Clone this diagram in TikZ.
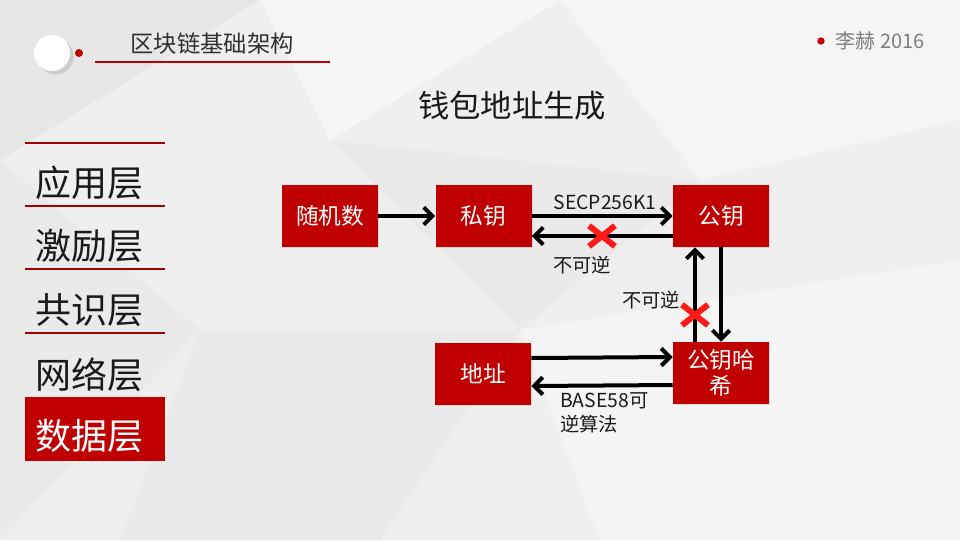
\documentclass[tikz,border=0pt]{standalone}
\usepackage{fontspec}
\setmainfont{Noto Sans CJK SC}
\usetikzlibrary{arrows.meta,shadows,shapes.misc}
\definecolor{slidered}{HTML}{C00000}
\definecolor{crossred}{HTML}{FF1A1A}
\definecolor{bggray}{HTML}{EFEFEF}
\definecolor{authorgray}{HTML}{7F7F7F}
\definecolor{inktext}{HTML}{1A1A1A}
\tikzset{
  keybox/.style={fill=slidered, text=white, minimum width=72pt, minimum height=46.5pt,
    inner sep=0pt, align=center, font=\fontsize{17}{19.5}\selectfont,
    drop shadow={opacity=0.2, shadow xshift=1pt, shadow yshift=-1pt}},
  flow/.style={line width=3pt, -{Straight Barb[length=6.5pt, width=13pt]}},
  note/.style={font=\fontsize{14.5}{18}\selectfont, text=inktext},
  layer/.style={font=\fontsize{27}{30}\selectfont, text=inktext},
  layerline/.style={slidered!85!black, line width=2.2pt},
  nogo/.style={cross out, draw=crossred, line width=4.5pt, minimum width=15pt,
    minimum height=11pt, inner sep=0pt},
}
\begin{document}
\begin{tikzpicture}[x=0.75pt, y=-0.75pt]
\fill[bggray] (0,0) rectangle (960,540);
\useasboundingbox (0,0) rectangle (960,540);
% faint facets in the background
\fill[black, opacity=0.03] (0,0) -- (260,0) -- (0,160) -- cycle;
\fill[white, opacity=0.45] (260,0) -- (560,0) -- (330,140) -- cycle;
\fill[black, opacity=0.02] (0,160) -- (200,330) -- (0,540) -- cycle;
\fill[white, opacity=0.4] (560,0) -- (960,0) -- (960,120) -- (700,180) -- cycle;
\fill[black, opacity=0.02] (330,140) -- (700,180) -- (520,330) -- cycle;
\fill[white, opacity=0.35] (520,330) -- (960,260) -- (960,540) -- (600,540) -- cycle;
\fill[black, opacity=0.02] (200,330) -- (520,330) -- (380,540) -- (120,540) -- cycle;
% header
\node[circle, fill=white, minimum size=27pt, drop shadow={opacity=0.25}] (badge) at (52,53) {};
\node[circle, fill=slidered, minimum size=6pt, inner sep=0pt] (reddot) at (79,53) {};
\node[font=\fontsize{17.5}{20}\selectfont, text=inktext!90] (head) at (212,44) {区块链基础架构};
\draw[slidered, line width=1.2pt] (95,62) -- (330,62);
\node[circle, fill=slidered, minimum size=5.5pt, inner sep=0pt] (authordot) at (821,41) {};
\node[font=\fontsize{15}{18}\selectfont, text=authorgray, anchor=west] (author) at (831,41) {李赫 2016};
\node[font=\fontsize{23.5}{26}\selectfont, text=inktext] (title) at (512,106) {钱包地址生成};
% layers
\draw[layerline] (25,143) -- (165,143);
\draw[layerline] (25,206) -- (165,206);
\draw[layerline] (25,269) -- (165,269);
\draw[layerline] (25,333) -- (165,333);
\node[layer] (app) at (90,183) {应用层};
\node[layer] (incent) at (90,246) {激励层};
\node[layer] (consensus) at (90,310) {共识层};
\node[layer] (net) at (90,375) {网络层};
\fill[slidered] (25,397) rectangle (165,461);
\node[layer, text=white] (data) at (90,436) {数据层};
% boxes
\node[keybox] (rand) at (330,216) {随机数};
\node[keybox] (sk) at (483.5,216) {私钥};
\node[keybox] (pk) at (721,216) {公钥};
\node[keybox] (addr) at (483,374) {地址};
\node[keybox] (hash) at (721,373) {公钥哈\\希};
% arrows
\draw[flow] (rand) -- (sk);
\draw[flow] (sk) -- (pk);
\draw[flow] ([yshift=-15pt]pk.west) -- ([yshift=-15pt]sk.east);
\draw[flow] ([xshift=-19.5pt]hash.north) -- ([xshift=-19.5pt]pk.south);
\draw[flow] (pk.south) -- (hash.north);
\draw[flow] ([yshift=12pt]addr.east) -- ([yshift=12pt]hash.west);
\draw[flow] ([yshift=-9pt]hash.west) -- ([yshift=-9pt]addr.east);
% labels
\node[note] (curve) at (605,202) {SECP256K1};
\node[note] (oneway1) at (582,265) {不可逆};
\node[note] (oneway2) at (651,300) {不可逆};
\node[note, align=left, anchor=north west, inner sep=0pt] (base58) at (560,392) {BASE58可\\逆算法};
\node[nogo] (cut1) at (602,236) {};
\node[nogo] (cut2) at (695,315) {};
\end{tikzpicture}
\end{document}
